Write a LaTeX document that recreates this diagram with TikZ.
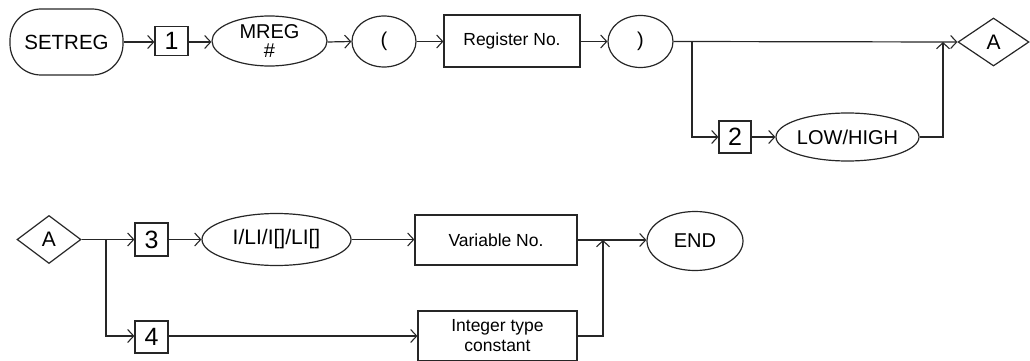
\documentclass[tikz,border=0pt]{standalone}
\usepackage{fontspec}
\setmainfont{Liberation Sans}
\usetikzlibrary{shapes.geometric,arrows.meta}
\tikzset{
  ln/.style={line width=1.2pt, draw=black!85},
  arr/.style={ln, -{Straight Barb[length=6pt,width=13pt,line width=1.1pt]}},
  numbox/.style={ln, draw, rectangle, inner sep=0pt, font=\fontsize{25}{26}\selectfont},
  ell/.style={ln, draw, ellipse, inner sep=0pt, font=\fontsize{20}{20}\selectfont, align=center},
  rbox/.style={ln, draw, rectangle, inner sep=0pt, font=\fontsize{17.5}{20}\selectfont, align=center},
  dia/.style={ln, draw, diamond, inner sep=0pt, font=\fontsize{21}{24}\selectfont},
}
\begin{document}
\begin{tikzpicture}[x=1pt,y=-1pt]
\useasboundingbox (0,0) rectangle (1030,361);
% top row
\node[ln, draw, rectangle, rounded corners=31pt, minimum width=113pt, minimum height=66pt, inner sep=0pt, font=\fontsize{20.5}{24}\selectfont] (setreg) at (66.5,42) {SETREG};
\node[numbox, minimum width=33pt, minimum height=29pt] (n1) at (171.5,41) {1};
\node[ell, minimum width=115pt, minimum height=50pt, font=\fontsize{20}{19.5}\selectfont] (mreg) at (269.5,41) {MREG\\\#};
\node[ell, minimum width=64pt, minimum height=51pt] (lp) at (384,41.5) {(};
\node[rbox, minimum width=136pt, minimum height=52pt] (reg) at (512,41) {Register No.};
\node[ell, minimum width=65pt, minimum height=52pt] (rp) at (640.5,41.5) {)};
\node[dia, minimum width=71pt, minimum height=48pt] (a1) at (993.5,42) {A};
\node[numbox, minimum width=32pt, minimum height=32pt] (n2) at (735,137) {2};
\node[ell, minimum width=141pt, minimum height=48pt] (low) at (847.5,137) {LOW/HIGH};
\coordinate (j1) at (692,42);
\coordinate (j2) at (943,42);
\draw[arr] (setreg.east |- 0,42) -- (n1.west |- 0,42);
\draw[arr] (n1.east |- 0,42) -- (mreg.west |- 0,42);
\draw[arr] (mreg.east |- 0,42) -- (lp.west);
\draw[arr] (lp.east) -- (reg.west |- lp.east);
\draw[arr] (reg.east |- rp.west) -- (rp.west);
\draw[arr] (rp.east) -- (a1.west);
\draw[arr] (j1) |- (n2.west);
\draw[arr] (n2.east) -- (low.west);
\draw[arr] (low.east) -| (j2);
% bottom row
\node[dia, minimum width=64pt, minimum height=48pt] (a2) at (49,239.5) {A};
\node[numbox, minimum width=33pt, minimum height=33pt] (n3) at (151.5,239.5) {3};
\node[numbox, minimum width=33pt, minimum height=32pt] (n4) at (151.5,337) {4};
\node[ell, minimum width=149pt, minimum height=52pt, font=\fontsize{21}{24}\selectfont] (ili) at (276.5,239.5) {I/LI/I[]/LI[]};
\node[rbox, minimum width=162pt, minimum height=50pt] (var) at (496,240) {Variable No.};
\node[rbox, minimum width=159pt, minimum height=50pt] (int) at (497.5,336) {Integer type\\constant};
\node[ell, minimum width=96pt, minimum height=59pt] (end) at (695,241) {END};
\coordinate (j3) at (106,240);
\coordinate (j4) at (603,240);
\draw[arr] (a2.east) -- (n3.west |- a2.east);
\draw[arr] (n3.east) -- (ili.west);
\draw[arr] (ili.east) -- (var.west |- ili.east);
\draw[arr] (var.east) -- (end.west |- var.east);
\draw[arr] (j3) |- (n4.west |- 0,336);
\draw[arr] (n4.east |- 0,336) -- (int.west);
\draw[arr] (int.east) -| (j4);
\end{tikzpicture}
\end{document}
